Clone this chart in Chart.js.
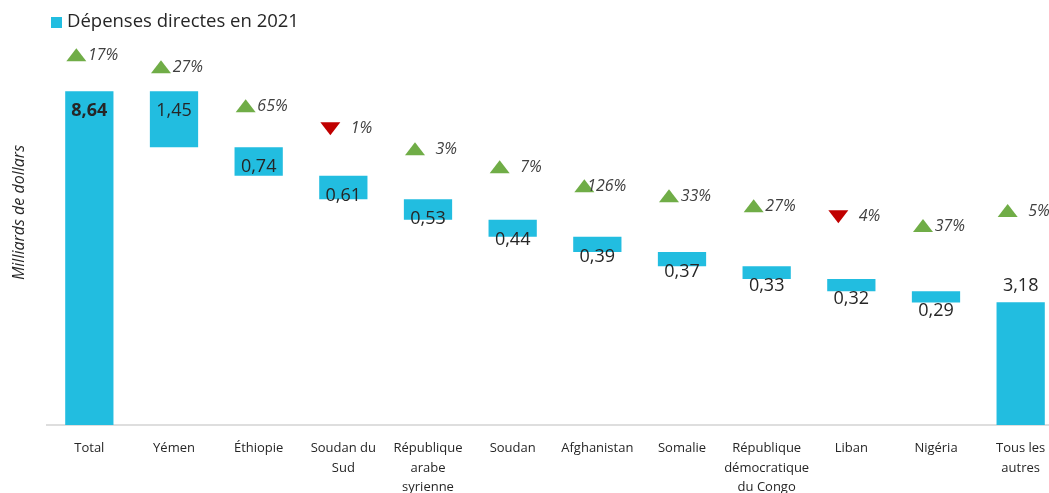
<!DOCTYPE html>
<html>
<head>
<meta charset="utf-8">
<script src="https://cdn.jsdelivr.net/npm/chart.js@4"></script>
<style>
  html, body { margin: 0; padding: 0; background: #fff; overflow: hidden; }
  #wrap { width: 1063px; height: 493px; }
</style>
</head>
<body>
<div id="wrap"><canvas id="waterfall"></canvas></div>
<script>
// données (milliards de dollars)
var categories = ['Total', 'Yémen', 'Éthiopie', ['Soudan du', 'Sud'], ['République', 'arabe', 'syrienne'], 'Soudan',
    'Afghanistan', 'Somalie', ['République', 'démocratique', 'du Congo'], 'Liban', 'Nigéria', ['Tous les', 'autres']];
var depenses = [8.64, 1.45, 0.74, 0.61, 0.53, 0.44, 0.39, 0.37, 0.33, 0.32, 0.29, 3.18];
var variation = [17, 27, 65, -1, 3, 7, 126, 33, 27, -4, 37, 5];
// hauteur des triangles de variation (même unité que l'axe)
var niveauVariation = [9.57, 9.26, 8.25, 7.68, 7.14, 6.67, 6.18, 5.92, 5.66, 5.40, 5.15, 5.54];
var legende = 'Dépenses directes en 2021';

var bleu = '#22BDE0';
var police = "'Open Sans', sans-serif";

// barres flottantes de la cascade
var barres = [];
var cumul = depenses[0];
for (let i = 0; i < depenses.length; i++) {
    if (i == 0 || i == depenses.length - 1) {
        barres.push([0, depenses[i]]);
    } else {
        barres.push([cumul - depenses[i], cumul]);
        cumul = cumul - depenses[i];
    }
}

function fmt(v) {
    return v.toFixed(2).replace('.', ',');
}

var etiquettes = {
    id: 'etiquettes',
    afterDatasetsDraw: function (chart) {
        var ctx = chart.ctx;
        var meta = chart.getDatasetMeta(0);
        var y = chart.scales.y;
        ctx.save();
        ctx.textBaseline = 'middle';

        // légende
        ctx.fillStyle = bleu;
        ctx.fillRect(51, 17, 11, 11);
        ctx.fillStyle = '#262626';
        ctx.font = '18.5px ' + police;
        ctx.textAlign = 'left';
        ctx.fillText(legende, 67, 22);

        for (let i = 0; i < meta.data.length; i++) {
            var el = meta.data[i];
            var top = Math.min(el.y, el.base);
            ctx.textAlign = 'center';
            ctx.fillStyle = '#262626';
            ctx.font = (i == 0 ? 'bold ' : '') + '18px ' + police;
            if (i == meta.data.length - 1) {
                ctx.fillText(fmt(depenses[i]), el.x, top - 16);
            } else {
                ctx.fillText(fmt(depenses[i]), el.x, top + 20);
            }

            // triangle + pourcentage
            var ty = y.getPixelForValue(niveauVariation[i]);
            var tx = el.x - 13;
            ctx.beginPath();
            if (variation[i] >= 0) {
                ctx.fillStyle = '#70AD47';
                ctx.moveTo(tx - 10, ty + 6);
                ctx.lineTo(tx + 10, ty + 6);
                ctx.lineTo(tx, ty - 7);
            } else {
                ctx.fillStyle = '#C00000';
                ctx.moveTo(tx - 10, ty - 6);
                ctx.lineTo(tx + 10, ty - 6);
                ctx.lineTo(tx, ty + 7);
            }
            ctx.closePath();
            ctx.fill();

            ctx.fillStyle = '#404040';
            ctx.font = 'italic 16px ' + police;
            ctx.textAlign = 'right';
            ctx.fillText(Math.abs(variation[i]) + '%', el.x + 29, ty);
        }
        ctx.restore();
    }
};

var ctx = document.getElementById('waterfall').getContext('2d');
var chart = new Chart(ctx, {
    type: 'bar',
    data: {
        labels: categories,
        datasets: [{
            label: legende,
            data: barres,
            backgroundColor: bleu,
            borderWidth: 0,
            barPercentage: 0.57,
            categoryPercentage: 1
        }]
    },
    options: {
        responsive: true,
        maintainAspectRatio: false,
        animation: false,
        layout: { padding: 0 },
        scales: {
            x: {
                grid: { display: false },
                border: { display: true, color: '#DEDEDE', width: 2 },
                ticks: {
                    color: '#262626',
                    font: { family: police, size: 13, lineHeight: 1.5 },
                    padding: 6,
                    maxRotation: 0,
                    autoSkip: false
                },
                afterFit: function (scale) { scale.height = 68; }
            },
            y: {
                min: 0,
                max: 11,
                grid: { display: false },
                border: { display: false },
                ticks: { display: false },
                title: {
                    display: true,
                    text: 'Milliards de dollars',
                    color: '#262626',
                    font: { family: police, size: 16, style: 'italic' },
                    padding: { top: 10, bottom: 0 }
                },
                afterFit: function (scale) { scale.width = 47; }
            }
        },
        plugins: {
            legend: { display: false },
            tooltip: { enabled: false }
        }
    },
    plugins: [etiquettes]
});
</script>
</body>
</html>
